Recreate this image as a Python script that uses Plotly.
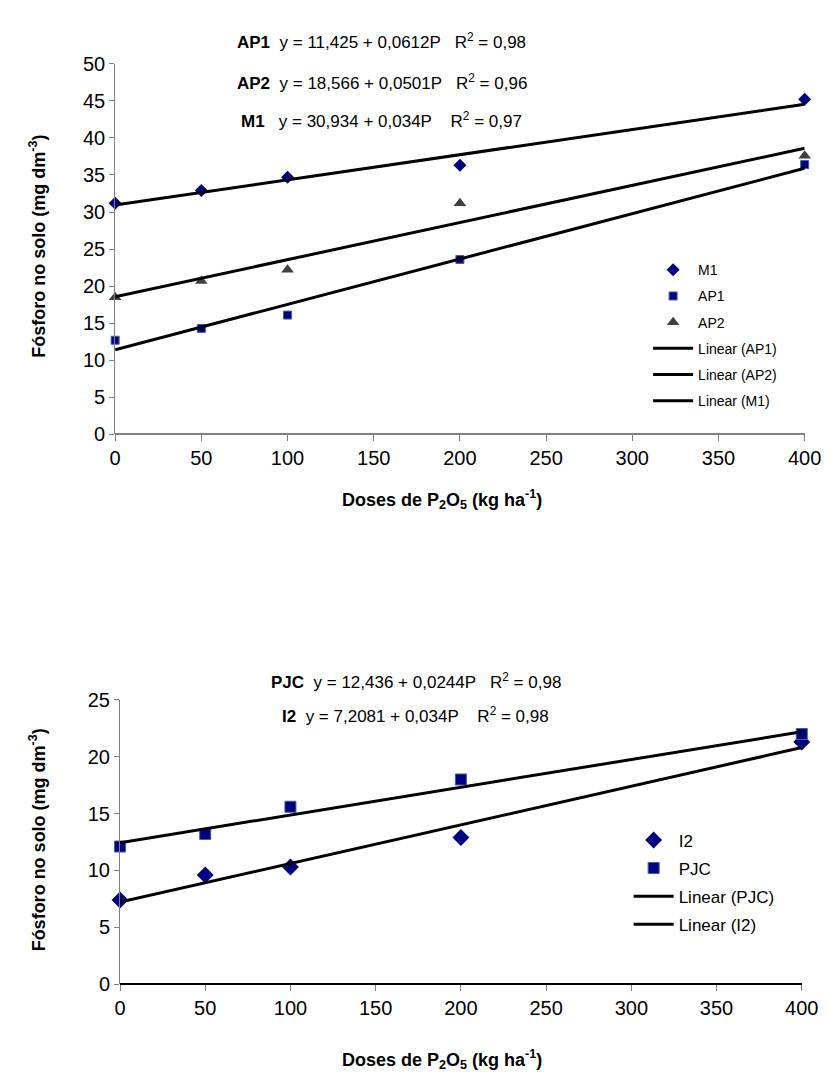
import plotly.graph_objects as go

# ---------------- data ----------------
doses = [0, 50, 100, 200, 400]

m1 = [31.2, 32.9, 34.7, 36.3, 45.2]
ap1 = [12.7, 14.3, 16.1, 23.6, 36.4]
ap2 = [18.5, 20.7, 22.2, 31.2, 37.6]

pjc = [12.1, 13.2, 15.6, 18.0, 22.0]
i2 = [7.4, 9.6, 10.3, 12.9, 21.3]

# regression coefficients (intercept, slope) as shown in the chart
coef_ap1 = (11.425, 0.0612)
coef_ap2 = (18.566, 0.0501)
coef_m1 = (30.934, 0.034)
coef_pjc = (12.436, 0.0244)
coef_i2 = (7.2081, 0.034)

x_fit = [0, 400]
x_ticks = [0, 50, 100, 150, 200, 250, 300, 350, 400]

eq_top = [
    "<b>AP1</b>  y = 11,425 + 0,0612P   R<sup>2</sup> = 0,98",
    "<b>AP2</b>  y = 18,566 + 0,0501P   R<sup>2</sup> = 0,96",
    "<b>M1</b>   y = 30,934 + 0,034P    R<sup>2</sup> = 0,97",
]
eq_bot = [
    "<b>PJC</b>  y = 12,436 + 0,0244P   R<sup>2</sup> = 0,98",
    "<b>I2</b>  y = 7,2081 + 0,034P    R<sup>2</sup> = 0,98",
]


def fit(c):
    return [c[0] + c[1] * x for x in x_fit]


FONT = "Liberation Sans, Arial, sans-serif"
NAVY = "#000080"

fig = go.Figure()

# ---- top chart ----
fig.add_trace(go.Scatter(x=doses, y=m1, mode="markers", name="M1", legendgroup="a",
                         marker=dict(symbol="diamond", size=10, color=NAVY),
                         cliponaxis=False, xaxis="x", yaxis="y", legend="legend"))
fig.add_trace(go.Scatter(x=doses, y=ap1, mode="markers", name="AP1", legendgroup="b",
                         marker=dict(symbol="square", size=8, color=NAVY,
                                     line=dict(color="#4060a0", width=1)),
                         cliponaxis=False, xaxis="x", yaxis="y", legend="legend"))
fig.add_trace(go.Scatter(x=doses, y=ap2, mode="markers", name="AP2", legendgroup="c",
                         marker=dict(symbol="triangle-up", size=11, color="#404040"),
                         cliponaxis=False, xaxis="x", yaxis="y", legend="legend"))
for g, (nm, c) in zip("def", [("Linear (AP1)", coef_ap1), ("Linear (AP2)", coef_ap2),
                              ("Linear (M1)", coef_m1)]):
    fig.add_trace(go.Scatter(x=x_fit, y=fit(c), mode="lines", name=nm, legendgroup=g,
                             line=dict(color="black", width=3),
                             cliponaxis=False, xaxis="x", yaxis="y", legend="legend"))

# ---- bottom chart ----
fig.add_trace(go.Scatter(x=doses, y=i2, mode="markers", name="I2", legendgroup="g",
                         marker=dict(symbol="diamond", size=13, color=NAVY),
                         cliponaxis=False, xaxis="x2", yaxis="y2", legend="legend2"))
fig.add_trace(go.Scatter(x=doses, y=pjc, mode="markers", name="PJC", legendgroup="h",
                         marker=dict(symbol="square", size=11, color=NAVY,
                                     line=dict(color="#4060a0", width=1)),
                         cliponaxis=False, xaxis="x2", yaxis="y2", legend="legend2"))
for g, (nm, c) in zip("ij", [("Linear (PJC)", coef_pjc), ("Linear (I2)", coef_i2)]):
    fig.add_trace(go.Scatter(x=x_fit, y=fit(c), mode="lines", name=nm, legendgroup=g,
                             line=dict(color="black", width=3),
                             cliponaxis=False, xaxis="x2", yaxis="y2", legend="legend2"))

W, H = 838, 1086


def px_x(p):
    return p / W


def px_y(p):
    return 1 - p / H


xcommon = dict(range=[0, 400], tickvals=x_ticks, ticks="outside", ticklen=6,
               tickcolor="#808080", showline=False, zeroline=False, showgrid=False,
               tickfont=dict(family=FONT, size=20, color="black"), fixedrange=True)
ycommon = dict(ticks="outside", ticklen=5, tickcolor="#808080", showline=True,
               linecolor="#808080", linewidth=1, showgrid=False,
               zeroline=True, zerolinewidth=1.5,
               tickfont=dict(family=FONT, size=20, color="black"), fixedrange=True)

fig.update_layout(
    width=W, height=H,
    margin=dict(l=0, r=0, t=0, b=0),
    paper_bgcolor="white", plot_bgcolor="white",
    font=dict(family=FONT, color="black"),
    xaxis=dict(domain=[px_x(104), px_x(813)], anchor="y", **xcommon),
    yaxis=dict(domain=[px_y(424), px_y(45.7)], anchor="x", range=[0, 50],
               dtick=5, zerolinecolor="#808080", **ycommon),
    xaxis2=dict(domain=[px_x(109), px_x(810)], anchor="y2", **xcommon),
    yaxis2=dict(domain=[px_y(985), px_y(695)], anchor="x2", range=[0, 25],
                dtick=5, zerolinecolor="black", **ycommon),
    legend=dict(x=px_x(652), y=px_y(240), xanchor="left", yanchor="top",
                bgcolor="rgba(0,0,0,0)", font=dict(family=FONT, size=14),
                itemwidth=40, tracegroupgap=5),
    legend2=dict(x=px_x(632), y=px_y(820), xanchor="left", yanchor="top",
                 bgcolor="rgba(0,0,0,0)", font=dict(family=FONT, size=17),
                 itemwidth=40, tracegroupgap=3),
)

ann = []
# axis titles
ytitle = "<b>Fósforo no solo (mg dm<sup>-3</sup>)</b>"
xtitle = "<b>Doses de P<sub>2</sub>O<sub>5</sub> (kg ha<sup>-1</sup>)</b>"
common_ann = dict(xref="paper", yref="paper", showarrow=False,
                  xanchor="center", yanchor="middle")
ann.append(dict(text=ytitle, x=px_x(24), y=px_y(232), textangle=-90,
                font=dict(family=FONT, size=18), **common_ann))
ann.append(dict(text=ytitle, x=px_x(24), y=px_y(838), textangle=-90,
                font=dict(family=FONT, size=18), **common_ann))
ann.append(dict(text=xtitle, x=px_x(440), y=px_y(490),
                font=dict(family=FONT, size=18), **common_ann))
ann.append(dict(text=xtitle, x=px_x(440), y=px_y(1062),
                font=dict(family=FONT, size=18), **common_ann))
# equations
for t, yy in zip(eq_top, [22, 64, 103]):
    ann.append(dict(text=t, x=px_x(378), y=px_y(yy),
                    font=dict(family=FONT, size=17), **common_ann))
for t, yy in zip(eq_bot, [676, 710]):
    ann.append(dict(text=t, x=px_x(413), y=px_y(yy),
                    font=dict(family=FONT, size=17), **common_ann))
fig.update_layout(annotations=ann)

fig.write_html("out.html")
